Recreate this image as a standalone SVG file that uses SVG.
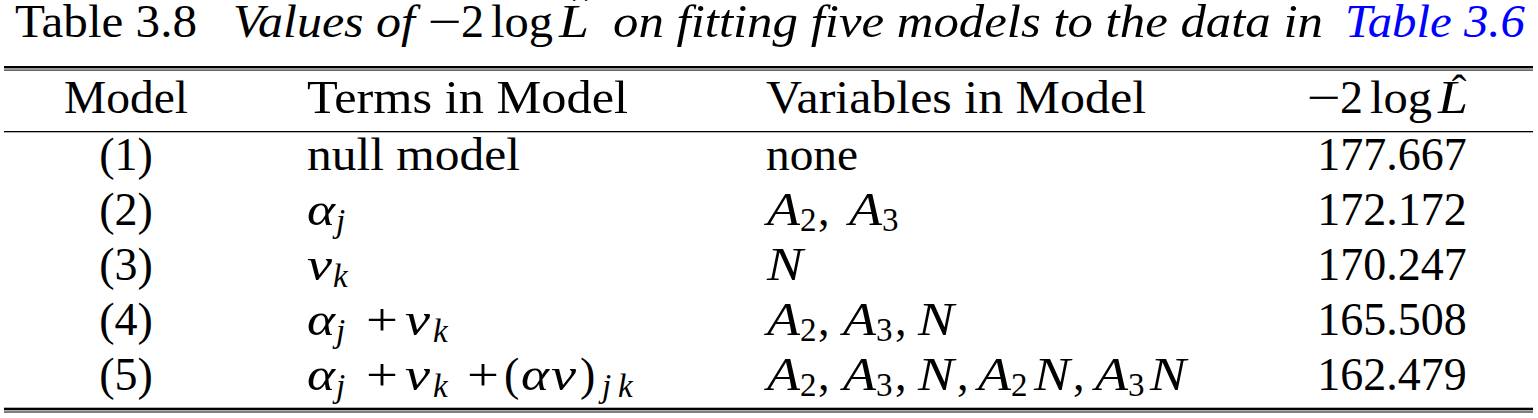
<svg xmlns="http://www.w3.org/2000/svg" width="1538" height="418" viewBox="0 0 1538 418">
<style>
text { font-family: "Liberation Serif", "Times New Roman", serif; font-size: 46px; fill: #000; }
.i { font-style: italic; }
.s { font-size: 33px; }
.c { text-anchor: middle; }
.h { font-size: 44px; text-anchor: middle; }
.lk { fill: #0000ff; }
.rule { fill: #000; }
</style>
<rect width="1538" height="418" fill="#fff"/>

<g id="caption">
  <text x="15" y="37" textLength="182" lengthAdjust="spacingAndGlyphs">Table 3.8</text>
  <text class="i" x="233" y="37" textLength="182" lengthAdjust="spacingAndGlyphs">Values of</text>
  <text x="428" y="37" textLength="34" lengthAdjust="spacingAndGlyphs">−</text>
  <text x="461" y="37">2</text>
  <text x="491" y="37" textLength="62" lengthAdjust="spacingAndGlyphs">log</text>
  <text class="i" x="559" y="37" textLength="30" lengthAdjust="spacingAndGlyphs">L</text>
  <text class="h" x="580" y="25">ˆ</text>
  <text class="i" x="613" y="37" textLength="710" lengthAdjust="spacingAndGlyphs">on fitting five models to the data in</text>
  <text class="i lk" x="1345" y="37" textLength="180" lengthAdjust="spacingAndGlyphs">Table 3.6</text>
</g>

<g id="rules">
  <rect class="rule" x="4" y="66" width="1529" height="2.4"/>
  <rect class="rule" x="4" y="69.6" width="1529" height="1"/>
  <rect class="rule" x="4" y="131" width="1529" height="1.3"/>
  <rect class="rule" x="4" y="407.7" width="1529" height="2.6"/>
  <rect class="rule" x="4" y="411.5" width="1529" height="1"/>
</g>

<g id="header">
  <text class="c" x="126" y="113" textLength="124" lengthAdjust="spacingAndGlyphs">Model</text>
  <text x="307" y="113" textLength="321" lengthAdjust="spacingAndGlyphs">Terms in Model</text>
  <text x="766" y="113" textLength="380" lengthAdjust="spacingAndGlyphs">Variables in Model</text>
  <text x="1307" y="113" textLength="34" lengthAdjust="spacingAndGlyphs">−</text>
  <text x="1340" y="113">2</text>
  <text x="1370" y="113" textLength="62" lengthAdjust="spacingAndGlyphs">log</text>
  <text class="i" x="1438" y="113" textLength="30" lengthAdjust="spacingAndGlyphs">L</text>
  <text class="h" x="1459" y="105">ˆ</text>
</g>

<g id="row1">
  <text class="c" x="126" y="170">(1)</text>
  <text x="307" y="170" textLength="213" lengthAdjust="spacingAndGlyphs">null model</text>
  <text x="766" y="170" textLength="92" lengthAdjust="spacingAndGlyphs">none</text>
  <text class="c" x="1392" y="170">177.667</text>
</g>

<g id="row2">
  <text class="c" x="126" y="225">(2)</text>
  <text class="i" x="307" y="225" textLength="28" lengthAdjust="spacingAndGlyphs">α</text>
  <text class="i s" x="336" y="232">j</text>
  <text class="i" x="767" y="225" textLength="33" lengthAdjust="spacingAndGlyphs">A</text>
  <text class="s" x="800" y="231">2</text>
  <text x="818" y="225">,</text>
  <text class="i" x="849" y="225" textLength="33" lengthAdjust="spacingAndGlyphs">A</text>
  <text class="s" x="882" y="231">3</text>
  <text class="c" x="1392" y="225">172.172</text>
</g>

<g id="row3">
  <text class="c" x="126" y="280">(3)</text>
  <text class="i" x="307" y="280" textLength="25" lengthAdjust="spacingAndGlyphs">ν</text>
  <text class="i s" x="333" y="287">k</text>
  <text class="i" x="767" y="280" textLength="36" lengthAdjust="spacingAndGlyphs">N</text>
  <text class="c" x="1392" y="280">170.247</text>
</g>

<g id="row4">
  <text class="c" x="126" y="335">(4)</text>
  <text class="i" x="307" y="335" textLength="28" lengthAdjust="spacingAndGlyphs">α</text>
  <text class="i s" x="336" y="342">j</text>
  <text class="c" x="382" y="335" textLength="32" lengthAdjust="spacingAndGlyphs">+</text>
  <text class="i" x="405" y="335" textLength="25" lengthAdjust="spacingAndGlyphs">ν</text>
  <text class="i s" x="433" y="342">k</text>
  <text class="i" x="767" y="335" textLength="33" lengthAdjust="spacingAndGlyphs">A</text>
  <text class="s" x="800" y="341">2</text>
  <text x="818" y="335">,</text>
  <text class="i" x="843" y="335" textLength="33" lengthAdjust="spacingAndGlyphs">A</text>
  <text class="s" x="876" y="341">3</text>
  <text x="895" y="335">,</text>
  <text class="i" x="918" y="335" textLength="36" lengthAdjust="spacingAndGlyphs">N</text>
  <text class="c" x="1392" y="335">165.508</text>
</g>

<g id="row5">
  <text class="c" x="126" y="390">(5)</text>
  <text class="i" x="307" y="390" textLength="28" lengthAdjust="spacingAndGlyphs">α</text>
  <text class="i s" x="336" y="397">j</text>
  <text class="c" x="382" y="390" textLength="32" lengthAdjust="spacingAndGlyphs">+</text>
  <text class="i" x="405" y="390" textLength="25" lengthAdjust="spacingAndGlyphs">ν</text>
  <text class="i s" x="433" y="397">k</text>
  <text class="c" x="483" y="390" textLength="32" lengthAdjust="spacingAndGlyphs">+</text>
  <text x="504" y="390">(</text>
  <text class="i" x="521" y="390" textLength="28" lengthAdjust="spacingAndGlyphs">α</text>
  <text class="i" x="551" y="390" textLength="25" lengthAdjust="spacingAndGlyphs">ν</text>
  <text x="580" y="390">)</text>
  <text class="i s" x="602" y="397">j</text>
  <text class="i s" x="618" y="397">k</text>
  <text class="i" x="767" y="390" textLength="33" lengthAdjust="spacingAndGlyphs">A</text>
  <text class="s" x="800" y="396">2</text>
  <text x="818" y="390">,</text>
  <text class="i" x="843" y="390" textLength="33" lengthAdjust="spacingAndGlyphs">A</text>
  <text class="s" x="876" y="396">3</text>
  <text x="895" y="390">,</text>
  <text class="i" x="918" y="390" textLength="36" lengthAdjust="spacingAndGlyphs">N</text>
  <text x="957" y="390">,</text>
  <text class="i" x="978" y="390" textLength="33" lengthAdjust="spacingAndGlyphs">A</text>
  <text class="s" x="1011" y="396">2</text>
  <text class="i" x="1034" y="390" textLength="36" lengthAdjust="spacingAndGlyphs">N</text>
  <text x="1073" y="390">,</text>
  <text class="i" x="1095" y="390" textLength="33" lengthAdjust="spacingAndGlyphs">A</text>
  <text class="s" x="1128" y="396">3</text>
  <text class="i" x="1150" y="390" textLength="36" lengthAdjust="spacingAndGlyphs">N</text>
  <text class="c" x="1392" y="390">162.479</text>
</g>
</svg>
